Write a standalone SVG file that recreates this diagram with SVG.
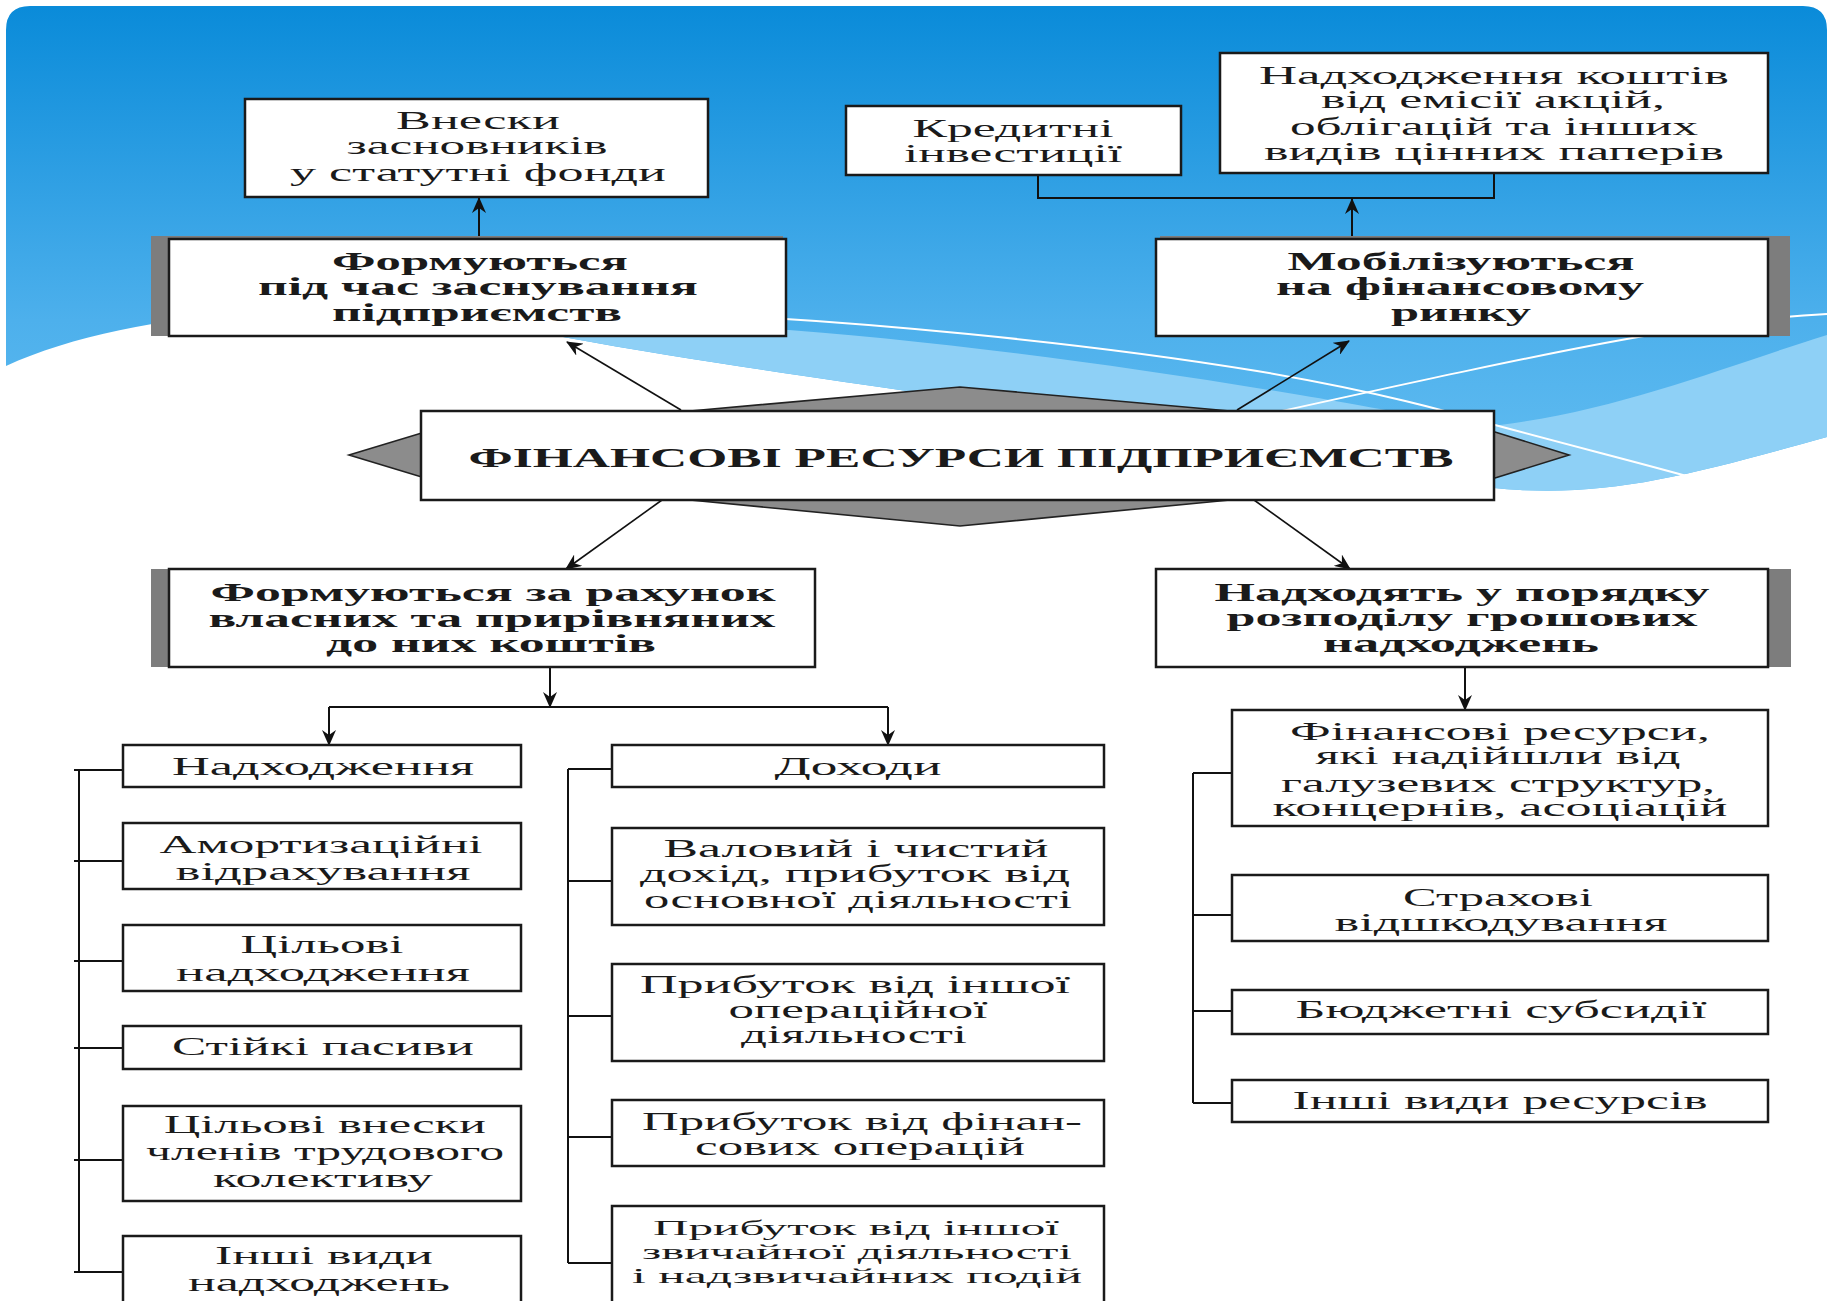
<svg xmlns="http://www.w3.org/2000/svg" width="1833" height="1301" viewBox="0 0 1833 1301">
<defs>
<linearGradient id="sky" x1="0" y1="6" x2="0" y2="490" gradientUnits="userSpaceOnUse">
<stop offset="0" stop-color="#0a8bd9"/>
<stop offset="0.65" stop-color="#4db0ec"/>
<stop offset="1" stop-color="#62bdf1"/>
</linearGradient>
<marker id="ah" markerWidth="16" markerHeight="14" refX="15" refY="7" orient="auto" markerUnits="userSpaceOnUse">
<path d="M0,0 L16,7 L0,14 L5,7 z" fill="#111"/>
</marker>
<style>
.box{fill:#fff;stroke:#1a1a1a;stroke-width:2.5}
.shadow{fill:#7d7d7d}
.t{font-family:"Liberation Serif","Times New Roman",serif;font-size:25px;fill:#1a1a1a;text-anchor:middle}
.s{font-size:22px}
.b{font-weight:bold}
.ln{stroke:#111;stroke-width:2;fill:none}
.dg{stroke:#111;stroke-width:1.6;fill:none}
.wl{stroke:#fff;stroke-width:2;fill:none}
</style>
</defs>

<g id="background">
<rect x="0" y="0" width="1833" height="1301" fill="#fff"/>
<path d="M6,366 C80,332 190,312 300,312 C400,312 480,322 563,337 C700,362 820,378 920,393 C1150,430 1380,482 1520,490 C1620,495 1700,472 1827,437 L1827,30 Q1827,6 1803,6 L30,6 Q6,6 6,30 Z" fill="url(#sky)"/>
<path d="M520,326 C700,312 1000,345 1300,395 C1420,415 1470,428 1500,425 C1620,410 1730,365 1827,335 L1827,437 C1700,472 1620,495 1520,490 C1380,482 1150,430 920,393 C820,378 700,362 563,337 Z" fill="#8ed0f6"/>
<path class="wl" d="M640,312 C850,318 1100,345 1257,371 C1380,392 1450,412 1495,425 C1580,448 1640,463 1690,477"/>
<path class="wl" d="M1250,418 C1400,385 1550,352 1644,336 C1730,322 1790,316 1827,314"/>
</g>

<g id="connectors">
<line class="ln" x1="479" y1="239" x2="479" y2="198" marker-end="url(#ah)"/>
<path class="ln" d="M1038,175 V198 H1494 V173"/>
<line class="ln" x1="1352" y1="239" x2="1352" y2="199" marker-end="url(#ah)"/>
<line class="dg" x1="681" y1="410" x2="567" y2="342" marker-end="url(#ah)"/>
<line class="dg" x1="1237" y1="410" x2="1349" y2="341" marker-end="url(#ah)"/>
<line class="dg" x1="662" y1="500" x2="566" y2="569" marker-end="url(#ah)"/>
<line class="dg" x1="1254" y1="500" x2="1350" y2="569" marker-end="url(#ah)"/>
<line class="ln" x1="550" y1="667" x2="550" y2="707" marker-end="url(#ah)"/>
<path class="ln" d="M329,707 H888"/>
<line class="ln" x1="329" y1="707" x2="329" y2="745" marker-end="url(#ah)"/>
<line class="ln" x1="888" y1="707" x2="888" y2="745" marker-end="url(#ah)"/>
<line class="ln" x1="1465" y1="667" x2="1465" y2="710" marker-end="url(#ah)"/>
<path class="ln" d="M79,770 V1272 M74,770 H123 M74,861 H123 M74,961 H123 M74,1048 H123 M74,1160 H123 M74,1272 H123"/>
<path class="ln" d="M568,769 V1263 M568,769 H612 M568,881 H612 M568,1016 H612 M568,1137 H612 M568,1263 H612"/>
<path class="ln" d="M1193,773 V1103 M1193,773 H1232 M1193,915 H1232 M1193,1011 H1232 M1193,1103 H1232"/>
</g>

<g id="node-vnesky">
<rect class="box" x="245" y="99" width="463" height="98"/>
<text class="t" x="478" y="129" textLength="164" lengthAdjust="spacingAndGlyphs">Внески</text>
<text class="t" x="477" y="154" textLength="261" lengthAdjust="spacingAndGlyphs">засновників</text>
<text class="t" x="478" y="181" textLength="376" lengthAdjust="spacingAndGlyphs">у статутні фонди</text>
</g>

<g id="node-kredytni">
<rect class="box" x="846" y="106" width="335" height="69"/>
<text class="t" x="1013" y="137" textLength="201" lengthAdjust="spacingAndGlyphs">Кредитні</text>
<text class="t" x="1013" y="162" textLength="218" lengthAdjust="spacingAndGlyphs">інвестиції</text>
</g>

<g id="node-emisiya">
<rect class="box" x="1220" y="53" width="548" height="120"/>
<text class="t" x="1494" y="84" textLength="470" lengthAdjust="spacingAndGlyphs">Надходження коштів</text>
<text class="t" x="1493" y="108" textLength="344" lengthAdjust="spacingAndGlyphs">від емісії акцій,</text>
<text class="t" x="1494" y="135" textLength="408" lengthAdjust="spacingAndGlyphs">облігацій та інших</text>
<text class="t" x="1494" y="160" textLength="460" lengthAdjust="spacingAndGlyphs">видів цінних паперів</text>
</g>

<g id="node-zasnuvannya">
<rect class="shadow" x="151" y="236" width="632" height="100"/>
<rect class="box" x="169" y="239" width="617" height="97"/>
<text class="t b" x="480" y="270" textLength="296" lengthAdjust="spacingAndGlyphs">Формуються</text>
<text class="t b" x="478" y="295" textLength="440" lengthAdjust="spacingAndGlyphs">під час заснування</text>
<text class="t b" x="477" y="321" textLength="290" lengthAdjust="spacingAndGlyphs">підприємств</text>
</g>

<g id="node-mobilizuyutsya">
<rect class="shadow" x="1160" y="236" width="630" height="100"/>
<rect class="box" x="1156" y="239" width="612" height="97"/>
<text class="t b" x="1461" y="270" textLength="347" lengthAdjust="spacingAndGlyphs">Мобілізуються</text>
<text class="t b" x="1460" y="295" textLength="368" lengthAdjust="spacingAndGlyphs">на фінансовому</text>
<text class="t b" x="1461" y="321" textLength="140" lengthAdjust="spacingAndGlyphs">ринку</text>
</g>

<g id="node-center">
<polygon points="349,455 425,432 690,411 960,387 1230,411 1495,432 1569,455 1495,478 1230,500 960,526 690,500 425,478" fill="#8c8c8c" stroke="#222" stroke-width="1.6"/>
<rect class="box" x="421" y="411" width="1073" height="89"/>
<text class="t b" x="961" y="467" style="font-size:28px" textLength="985" lengthAdjust="spacingAndGlyphs">ФІНАНСОВІ РЕСУРСИ ПІДПРИЄМСТВ</text>
</g>

<g id="node-vlasni">
<rect class="shadow" x="151" y="569" width="640" height="98"/>
<rect class="box" x="169" y="569" width="646" height="98"/>
<text class="t b" x="493" y="601" textLength="565" lengthAdjust="spacingAndGlyphs">Формуються за рахунок</text>
<text class="t b" x="492" y="627" textLength="567" lengthAdjust="spacingAndGlyphs">власних та прирівняних</text>
<text class="t b" x="491" y="652" textLength="330" lengthAdjust="spacingAndGlyphs">до них коштів</text>
</g>

<g id="node-rozpodil">
<rect class="shadow" x="1170" y="569" width="621" height="98"/>
<rect class="box" x="1156" y="569" width="612" height="98"/>
<text class="t b" x="1462" y="601" textLength="495" lengthAdjust="spacingAndGlyphs">Надходять у порядку</text>
<text class="t b" x="1462" y="626" textLength="471" lengthAdjust="spacingAndGlyphs">розподілу грошових</text>
<text class="t b" x="1461" y="652" textLength="276" lengthAdjust="spacingAndGlyphs">надходжень</text>
</g>

<g id="node-nadkhodzhennya">
<rect class="box" x="123" y="745" width="398" height="42"/>
<text class="t" x="323" y="775" textLength="302" lengthAdjust="spacingAndGlyphs">Надходження</text>
</g>
<g id="node-amortyzatsiyni">
<rect class="box" x="123" y="823" width="398" height="66"/>
<text class="t" x="321" y="853" textLength="323" lengthAdjust="spacingAndGlyphs">Амортизаційні</text>
<text class="t" x="323" y="880" textLength="295" lengthAdjust="spacingAndGlyphs">відрахування</text>
</g>
<g id="node-tsilovi">
<rect class="box" x="123" y="925" width="398" height="66"/>
<text class="t" x="322" y="953" textLength="163" lengthAdjust="spacingAndGlyphs">Цільові</text>
<text class="t" x="323" y="981" textLength="294" lengthAdjust="spacingAndGlyphs">надходження</text>
</g>
<g id="node-stiyki">
<rect class="box" x="123" y="1026" width="398" height="43"/>
<text class="t" x="323" y="1055" textLength="302" lengthAdjust="spacingAndGlyphs">Стійкі пасиви</text>
</g>
<g id="node-vnesky-chleniv">
<rect class="box" x="123" y="1106" width="398" height="95"/>
<text class="t" x="325" y="1133" textLength="322" lengthAdjust="spacingAndGlyphs">Цільові внески</text>
<text class="t" x="325" y="1160" textLength="358" lengthAdjust="spacingAndGlyphs">членів трудового</text>
<text class="t" x="323" y="1187" textLength="220" lengthAdjust="spacingAndGlyphs">колективу</text>
</g>
<g id="node-inshi-nadkhodzhen">
<rect class="box" x="123" y="1236" width="398" height="75"/>
<text class="t" x="324" y="1264" textLength="218" lengthAdjust="spacingAndGlyphs">Інші види</text>
<text class="t" x="319" y="1291" textLength="262" lengthAdjust="spacingAndGlyphs">надходжень</text>
</g>

<g id="node-dokhody">
<rect class="box" x="612" y="745" width="492" height="42"/>
<text class="t" x="858" y="775" textLength="167" lengthAdjust="spacingAndGlyphs">Доходи</text>
</g>
<g id="node-valovyi">
<rect class="box" x="612" y="828" width="492" height="97"/>
<text class="t" x="856" y="857" textLength="385" lengthAdjust="spacingAndGlyphs">Валовий і чистий</text>
<text class="t" x="855" y="882" textLength="430" lengthAdjust="spacingAndGlyphs">дохід, прибуток від</text>
<text class="t" x="858" y="908" textLength="428" lengthAdjust="spacingAndGlyphs">основної діяльності</text>
</g>
<g id="node-operatsiyna">
<rect class="box" x="612" y="964" width="492" height="97"/>
<text class="t" x="855" y="993" textLength="430" lengthAdjust="spacingAndGlyphs">Прибуток від іншої</text>
<text class="t" x="858" y="1018" textLength="259" lengthAdjust="spacingAndGlyphs">операційної</text>
<text class="t" x="854" y="1043" textLength="226" lengthAdjust="spacingAndGlyphs">діяльності</text>
</g>
<g id="node-finansovi-operatsii">
<rect class="box" x="612" y="1100" width="492" height="66"/>
<text class="t" x="862" y="1130" textLength="440" lengthAdjust="spacingAndGlyphs">Прибуток від фінан-</text>
<text class="t" x="860" y="1155" textLength="330" lengthAdjust="spacingAndGlyphs">сових операцій</text>
</g>
<g id="node-zvychaina">
<rect class="box" x="612" y="1206" width="492" height="105"/>
<text class="t s" x="856" y="1235" textLength="406" lengthAdjust="spacingAndGlyphs">Прибуток від іншої</text>
<text class="t s" x="857" y="1259" textLength="430" lengthAdjust="spacingAndGlyphs">звичайної діяльності</text>
<text class="t s" x="857" y="1283" textLength="450" lengthAdjust="spacingAndGlyphs">і надзвичайних подій</text>
</g>

<g id="node-haluzevi">
<rect class="box" x="1232" y="710" width="536" height="116"/>
<text class="t" x="1500" y="740" textLength="420" lengthAdjust="spacingAndGlyphs">Фінансові ресурси,</text>
<text class="t" x="1498" y="764" textLength="365" lengthAdjust="spacingAndGlyphs">які надійшли від</text>
<text class="t" x="1498" y="792" textLength="434" lengthAdjust="spacingAndGlyphs">галузевих структур,</text>
<text class="t" x="1500" y="816" textLength="455" lengthAdjust="spacingAndGlyphs">концернів, асоціацій</text>
</g>
<g id="node-strakhovi">
<rect class="box" x="1232" y="875" width="536" height="66"/>
<text class="t" x="1498" y="906" textLength="190" lengthAdjust="spacingAndGlyphs">Страхові</text>
<text class="t" x="1501" y="931" textLength="333" lengthAdjust="spacingAndGlyphs">відшкодування</text>
</g>
<g id="node-byudzhetni">
<rect class="box" x="1232" y="990" width="536" height="44"/>
<text class="t" x="1501" y="1018" textLength="411" lengthAdjust="spacingAndGlyphs">Бюджетні субсидії</text>
</g>
<g id="node-inshi-resursy">
<rect class="box" x="1232" y="1080" width="536" height="42"/>
<text class="t" x="1500" y="1109" textLength="415" lengthAdjust="spacingAndGlyphs">Інші види ресурсів</text>
</g>
</svg>
